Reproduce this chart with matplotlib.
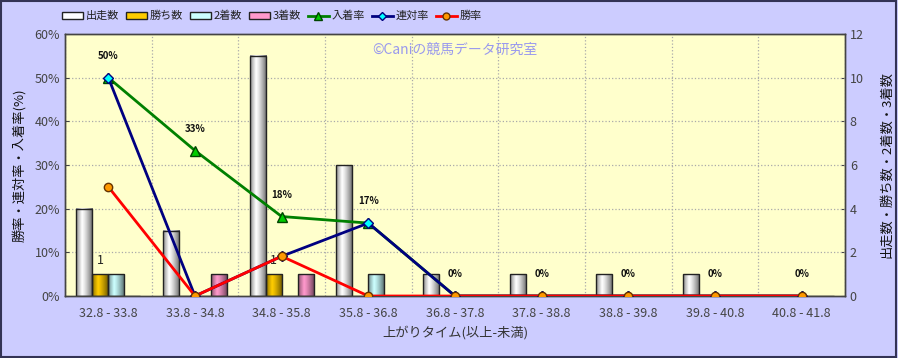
import matplotlib
matplotlib.use("Agg")
import matplotlib.pyplot as plt
import numpy as np
from matplotlib.patches import Rectangle, Patch
from matplotlib.lines import Line2D
from matplotlib.colors import to_rgb

plt.rcParams['font.family'] = ['Noto Sans CJK JP', 'DejaVu Sans']

categories = ["32.8 - 33.8", "33.8 - 34.8", "34.8 - 35.8", "35.8 - 36.8", "36.8 - 37.8",
              "37.8 - 38.8", "38.8 - 39.8", "39.8 - 40.8", "40.8 - 41.8"]
runs = [4, 3, 11, 6, 1, 1, 1, 1, 0]
wins = [1, 0, 1, 0, 0, 0, 0, 0, 0]
seconds = [1, 0, 0, 1, 0, 0, 0, 0, 0]
thirds = [0, 1, 1, 0, 0, 0, 0, 0, 0]
place_rate = [50.0, 33.3, 18.2, 16.7, 0, 0, 0, 0, 0]
quinella_rate = [50.0, 0, 9.1, 16.7, 0, 0, 0, 0, 0]
win_rate = [25.0, 0, 9.1, 0, 0, 0, 0, 0, 0]
place_labels = ["50%", "33%", "18%", "17%", "0%", "0%", "0%", "0%", "0%"]

W, H = 898, 358
fig = plt.figure(figsize=(W / 100, H / 100), dpi=100)
fig.patch.set_facecolor('#CCCCFF')
fig.add_artist(Rectangle((0.001, 0.002), 0.997, 0.995, transform=fig.transFigure,
                         fill=False, edgecolor='#333355', linewidth=1.5))

ax = fig.add_axes([65 / W, 1 - 296 / H, 780 / W, 262 / H])
ax.set_facecolor('#FFFFCC')
ax2 = ax.twinx()

x = np.arange(len(categories))
bw = 0.185
series = [(runs, '#FFFFFF', '出走数'), (wins, '#FFCC00', '勝ち数'),
          (seconds, '#CCFFFF', '2着数'), (thirds, '#FF99CC', '3着数')]


def shade(color, n=64):
    c = np.array(to_rgb(color))
    t = np.linspace(0, 1, n)
    prof = np.where(t < 0.35, 0.55 + 0.45 * (t / 0.35), 1.0 - 0.6 * ((t - 0.35) / 0.65) ** 1.3)
    img = np.zeros((1, n, 4))
    for i in range(3):
        img[0, :, i] = np.clip(c[i] * prof, 0, 1)
    img[0, :, 3] = 1
    return img


for k, (vals, col, lab) in enumerate(series):
    xs = x + (k - 1.5) * bw
    bars = ax.bar(xs, vals, width=bw, facecolor='none', edgecolor='#222222', linewidth=1.0, zorder=3)
    for b, v in zip(bars, vals):
        if v <= 0:
            continue
        x0 = b.get_x()
        ax.imshow(shade(col), extent=[x0, x0 + bw, 0, v], aspect='auto', interpolation='bilinear', zorder=2.5)

for xi, v in zip(x, wins):
    if v > 0:
        ax.text(xi - 0.5 * bw, v + 0.35, str(v), ha='center', va='bottom', fontsize=9, color='#222222')

ax.set_xlim(-0.5, len(categories) - 0.5)
ax.set_ylim(0, 12)
ax.set_yticks(range(0, 13, 2))
ax.yaxis.tick_right()
ax.yaxis.set_label_position('right')
ax.set_ylabel('出走数・勝ち数・2着数・3着数', fontsize=9.5, color='#111111', rotation=90, labelpad=12)

ax2.yaxis.tick_left()
ax2.yaxis.set_label_position('left')
ax2.set_ylim(0, 60)
ax2.set_yticks(range(0, 61, 10))
ax2.set_yticklabels([f"{v}%" for v in range(0, 61, 10)])
ax2.set_ylabel('勝率・連対率・入着率(%)', fontsize=9.5, color='#111111', labelpad=6)

ax2.plot(x, place_rate, color='#008000', lw=2, marker='^', ms=7, mfc='#00CC00', mec='#004400', zorder=4)
ax2.plot(x, quinella_rate, color='#000080', lw=2, marker='D', ms=5, mfc='#00FFFF', mec='#000080', zorder=5)
ax2.plot(x, win_rate, color='#FF0000', lw=2, marker='o', ms=6, mfc='#FF9900', mec='#663300', zorder=6)
for xi, v, t in zip(x, place_rate, place_labels):
    ax2.annotate(t, (xi, v), xytext=(0, 12), textcoords='offset points', ha='center', va='bottom',
                 fontsize=7, fontweight='bold', color='#111111')

ax.set_xticks(x)
ax.set_xticklabels(categories)
ax.set_xticks(np.arange(-0.5, len(categories), 1), minor=True)
ax.tick_params(axis='x', which='both', length=0, labelsize=9, colors='#444444', pad=8)
ax.tick_params(axis='y', direction='in', labelsize=9, colors='#444444', length=3)
ax2.tick_params(axis='y', direction='in', labelsize=9, colors='#444444', length=3)
ax.set_xlabel('上がりタイム(以上-未満)', fontsize=9.5, color='#333333', labelpad=4)

ax.grid(which='minor', axis='x', color='#AAAAAA', linestyle=':', linewidth=0.9)
ax.grid(which='major', axis='x', visible=False)
for yv in range(2, 12, 2):
    ax.axhline(yv, color='#AAAAAA', linestyle=':', linewidth=0.9, zorder=1)
ax.set_axisbelow(True)

for a in (ax, ax2):
    for s in a.spines.values():
        s.set_color('#444444')
        s.set_linewidth(1)

ax2.text(0.5, 0.94, '©Caniの競馬データ研究室', transform=ax2.transAxes, ha='center', va='center',
         fontsize=10, color='#9999EE', zorder=1)

handles = [Patch(facecolor=c, edgecolor='#222222', label=l) for _, c, l in series]
handles += [
    Line2D([], [], color='#008000', lw=2, marker='^', ms=6, mfc='#00CC00', mec='#004400', label='入着率'),
    Line2D([], [], color='#000080', lw=2, marker='D', ms=4, mfc='#00FFFF', mec='#000080', label='連対率'),
    Line2D([], [], color='#FF0000', lw=2, marker='o', ms=5, mfc='#FF9900', mec='#663300', label='勝率'),
]
fig.legend(handles=handles, loc='center', bbox_to_anchor=(272 / W, 1 - 16 / H), ncol=7, frameon=False,
           fontsize=8, handlelength=1.9, handleheight=0.55, columnspacing=0.6, handletextpad=0.25,
           labelcolor='#222222')

fig.savefig('out.png', dpi=100, facecolor=fig.get_facecolor())
